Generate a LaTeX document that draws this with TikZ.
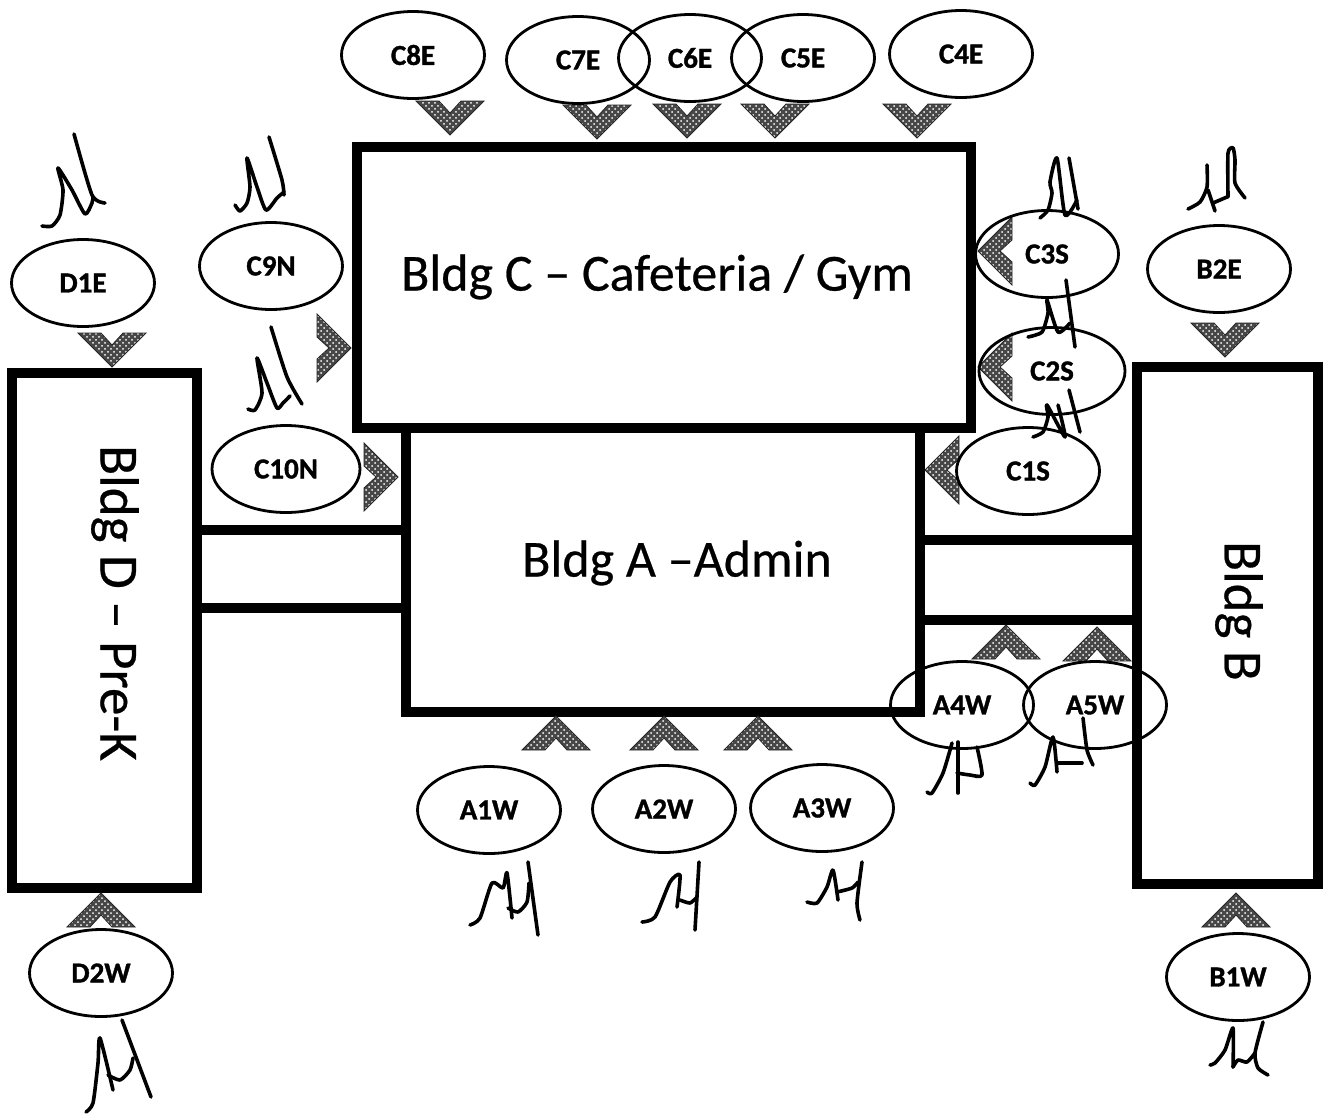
\documentclass[tikz,border=0pt]{standalone}
\usepackage{fontspec}
\setmainfont[BoldFeatures={FakeBold=1.2}]{Carlito}
\usetikzlibrary{shapes.geometric,patterns}
\tikzset{
  x=0.5pt,y=-0.5pt,
  wall/.style={draw=black,line width=5.2pt,line join=miter,line cap=rect},
  bldg/.style={rectangle,wall,fill=white,inner sep=0pt,outer sep=0pt},
  bigtext/.style={font=\fontsize{26}{29}\selectfont\addfontfeature{FakeBold=0.5},inner sep=0pt},
  bigturned/.style={font=\fontsize{27.5}{30}\selectfont\addfontfeature{FakeBold=0.5},inner sep=0pt,rotate=-90},
  spot/.style={ellipse,draw=black,line width=1.4pt,inner sep=0pt,outer sep=0pt,
     minimum width=71.5pt,minimum height=43.5pt,font=\fontsize{14.5}{16}\selectfont\bfseries},
  chevronmark/.style={preaction={fill=black!72},pattern=crosshatch dots,pattern color=white,draw=black!85,line width=0.4pt},
  ink/.style={draw=black,line width=1.8pt,line cap=round,line join=round},
}
\newcommand{\chev}[3]{\path[chevronmark,shift={(#1,#2)},rotate=#3]
  (-34,-34)--(0,0)--(-34,34)--(-34,11)--(-22,0)--(-34,-11)--cycle;}
\newcommand{\inkline}[1]{\draw[ink] plot[smooth,tension=0.4] coordinates {#1};}
\begin{document}
\begin{tikzpicture}
\useasboundingbox (0,0) rectangle (1325,1114);
% buildings
\node[bldg,minimum width=257pt,minimum height=142pt] (A) at (663,570) {};
\node[bldg,minimum width=307pt,minimum height=140.5pt] (C) at (664,287.5) {};
\node[bldg,minimum width=92.5pt,minimum height=257.5pt] (D) at (104.5,630.5) {};
\node[bldg,minimum width=90.5pt,minimum height=258.5pt] (B) at (1227.5,625.5) {};
\node[bigtext] (lC) at (657,277) {Bldg C – Cafeteria / Gym};
\node[bigtext] (lA) at (677,563) {Bldg A –Admin};
\node[bigturned] (lD) at (115,603) {Bldg D – Pre-K};
\node[bigturned] (lB) at (1239,611) {Bldg B};
% covered passages
\draw[wall,line cap=butt] (D.east |- 0,530) -- (A.west |- 0,530);
\draw[wall,line cap=butt] (D.east |- 0,608) -- (A.west |- 0,608);
\draw[wall,line cap=butt] (A.east |- 0,540) -- (B.west |- 0,540);
\draw[wall,line cap=butt] (A.east |- 0,620) -- (B.west |- 0,620);
% chevrons
\chev{450}{135}{-90}
\chev{597}{139}{-90}
\chev{687}{138}{-90}
\chev{775}{138}{-90}
\chev{917}{138}{-90}
\chev{112}{367}{-90}
\chev{1225}{357}{-90}
\chev{351}{348}{0}
\chev{398}{477}{0}
\chev{978}{251}{180}
\chev{978}{367}{180}
\chev{925}{470}{180}
\chev{556}{716}{90}
\chev{664}{716}{90}
\chev{758}{716}{90}
\chev{1006}{625}{90}
\chev{1097}{627}{90}
\chev{101}{893}{90}
\chev{1236}{893}{90}
% stations
\node[spot] (c8e) at (413,55) {C8E};
\node[spot] (c7e) at (578,60) {C7E};
\node[spot] (c6e) at (690,58) {C6E};
\node[spot] (c5e) at (803,58) {C5E};
\node[spot] (c4e) at (961,54) {C4E};
\node[spot,fill=white] (d1e) at (83,283) {D1E};
\node[spot] (c9n) at (271,266) {C9N};
\node[spot,minimum width=74pt] (c10n) at (286,469) {C10N};
\node[spot] (c3s) at (1047,254) {C3S};
\node[spot,minimum width=73pt] (c2s) at (1052,371) {C2S};
\node[spot] (c1s) at (1028,471) {C1S};
\node[spot] (b2e) at (1219,269) {B2E};
\node[spot] (a4w) at (962,705) {A4W};
\node[spot] (a5w) at (1095,705) {A5W};
\node[spot] (a1w) at (489,810) {A1W};
\node[spot] (a2w) at (664,809) {A2W};
\node[spot] (a3w) at (822,808) {A3W};
\node[spot] (d2w) at (101,973) {D2W};
\node[spot] (b1w) at (1238,977) {B1W};
% handwritten initials
\inkline{(42,226)(52,226)(60,215)(63,190)(58,168)(72,190)(85,214)(92,203)(93,197)}
\inkline{(74,134)(92,195)(105,203)}
\inkline{(235,205)(240,211)(247,203)(250,187)(247,158)(257,187)(266,210)(277,198)(284,192)}
\inkline{(269,137)(282,180)(284,195)}
\inkline{(248,409)(255,410)(262,393)(257,358)(267,383)(277,408)(283,403)(290,396)}
\inkline{(271,327)(287,377)(302,404)}
\inkline{(1040,218)(1048,210)(1052,193)(1050,182)(1057,158)(1065,215)(1077,200)}
\inkline{(1069,158)(1078,209)}
\inkline{(1028,337)(1042,332)(1048,313)(1047,300)(1058,332)(1070,323)}
\inkline{(1066,280)(1075,347)}
\inkline{(1033,437)(1043,432)(1048,417)(1047,405)(1065,437)(1058,405)}
\inkline{(1069,390)(1080,432)}
\inkline{(1188,209)(1200,202)(1207,187)(1207,165)}
\inkline{(1208,190)(1215,211)}
\inkline{(1213,203)(1227,197)}
\inkline{(1228,197)(1228,153)(1233,148)(1235,160)(1235,183)(1245,198)}
\inkline{(927,792)(932,793)(943,773)(952,743)}
\inkline{(958,742)(958,793)}
\inkline{(957,773)(970,775)(982,775)(977,747)}
\inkline{(1030,783)(1035,785)(1045,767)(1053,737)(1057,772)}
\inkline{(1057,763)(1070,763)(1082,763)}
\inkline{(1083,718)(1087,750)(1093,765)}
\inkline{(470,925)(480,918)(492,883)(503,888)(507,873)(512,918)}
\inkline{(508,908)(518,912)(527,902)(529,883)}
\inkline{(528,862)(538,935)}
\inkline{(642,922)(655,917)(670,882)(680,875)(677,907)}
\inkline{(680,900)(690,903)(697,897)}
\inkline{(699,862)(695,930)}
\inkline{(807,902)(817,903)(827,887)(833,870)(838,900)}
\inkline{(837,892)(852,888)(858,882)}
\inkline{(862,862)(857,903)(860,920)}
\inkline{(86,1112)(93,1103)(98,1063)(100,1038)(113,1090)}
\inkline{(108,1075)(120,1080)(130,1070)(133,1058)}
\inkline{(122,1020)(151,1097)}
\inkline{(1210,1065)(1215,1063)(1225,1050)(1233,1028)(1233,1067)}
\inkline{(1233,1067)(1238,1060)(1247,1062)(1255,1053)}
\inkline{(1263,1022)(1255,1053)(1258,1068)(1268,1075)}
\end{tikzpicture}
\end{document}
